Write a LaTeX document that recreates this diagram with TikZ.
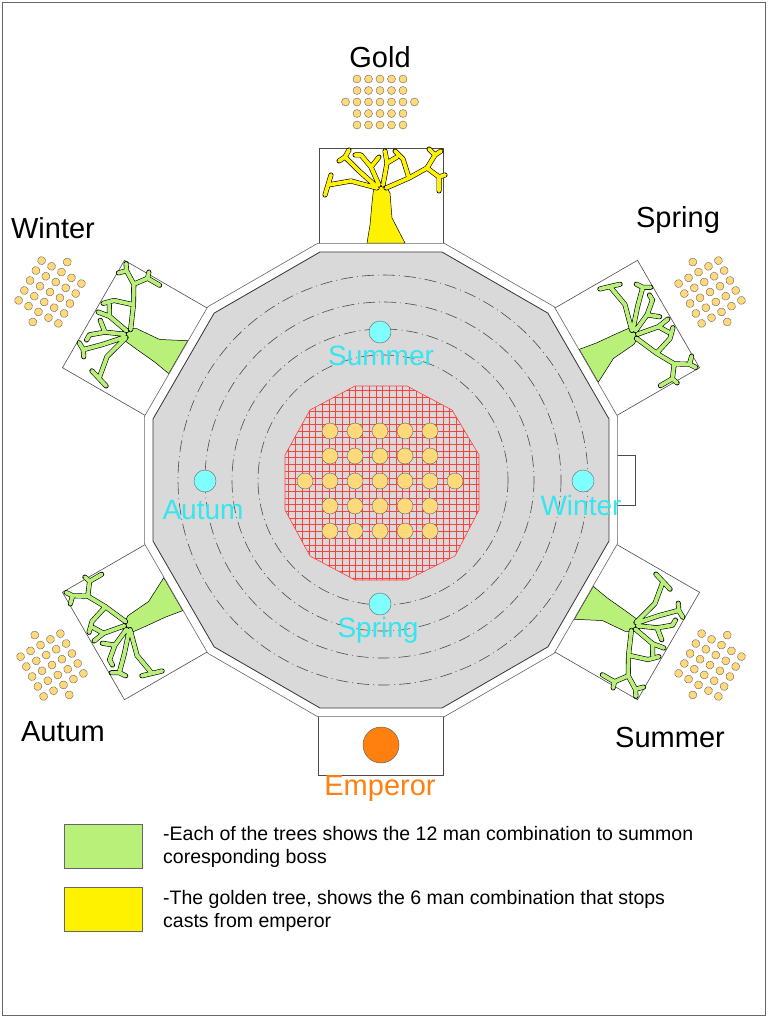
\documentclass[tikz,border=0pt]{standalone}
\usepackage{fontspec}
\setmainfont{Liberation Sans}
\usetikzlibrary{positioning,calc}
\definecolor{hallgray}{HTML}{D9D9D9}
\definecolor{manfill}{HTML}{FFD97A}
\definecolor{treegreen}{HTML}{B8F07A}
\definecolor{treegold}{HTML}{FFF200}
\definecolor{bossdot}{HTML}{80FFFF}
\definecolor{bosstext}{HTML}{33E6F0}
\definecolor{emporange}{HTML}{FF7F0F}
\tikzset{
    treebox/.style={draw=black!70, fill=white, line width=0.6pt},
    man/.style={draw=black!60, fill=manfill, line width=0.4pt},
    boss/.style={draw=black!60, fill=bossdot, line width=0.4pt},
    bosslabel/.style={text=bosstext, font=\fontsize{28}{28}\selectfont},
    sidelabel/.style={font=\fontsize{29}{29}\selectfont},
    ring/.style={draw=black!70, line width=0.6pt, dash pattern=on 12pt off 4pt on 1pt off 4pt},
    legendtext/.style={font=\fontsize{19.5}{23}\selectfont, align=left, anchor=north west, inner sep=0pt}
}
% one tree, base at origin, growing towards negative y
\newcommand{\drawtree}[1]{%
  \fill[#1, draw=black, line width=0.5pt] (-14,0) -- (24,0) -- (11,-25) -- (9,-50) -- (2,-62) -- (-7,-58) -- (-9,-40) -- (-11,-18) -- cycle;
  \foreach \w/\c in {5/black, 3.8/#1}{
    \draw[line width=\w pt, \c, line cap=round, line join=round]
      (-4,-55) -- (-30,-62) -- (-53,-58) (-53,-58) -- (-56,-48) (-53,-58) -- (-50,-68)
      (-4,-56) -- (-22,-72) -- (-36,-86) (-36,-86) -- (-42,-82) (-36,-86) -- (-32,-93)
      (-2,-58) -- (-10,-76) -- (-20,-88) (-20,-88) -- (-26,-88) (-10,-76) -- (-2,-86)
      (2,-58) -- (6,-80) -- (4,-92) (6,-80) -- (16,-86)
      (5,-55) -- (28,-65) -- (46,-75) -- (54,-88) (54,-88) -- (60,-92) (54,-88) -- (48,-94)
      (28,-65) -- (22,-84) -- (14,-92)
      (46,-75) -- (58,-66) -- (58,-52) (58,-66) -- (64,-68);
  }
}
% 5x5 men plus one at each end of the middle row
\newcommand{\mengroup}[2]{%
  \foreach \i in {-2,...,2}{
    \foreach \j in {-2,...,2}{
      \draw[man] (\i*#1,\j*#1) circle (#2);
    }
  }
  \draw[man] (-3*#1,0) circle (#2);
  \draw[man] (3*#1,0) circle (#2);
}
\begin{document}
\begin{tikzpicture}[x=1pt, y=-1pt]
\useasboundingbox (0,0) rectangle (768,1024);
\draw[black!60, line width=0.6pt] (2,2) rectangle (765,1015);

% tree boxes around the hall
\foreach \r/\col in {0/treegold, 60/treegreen, -60/treegreen, 120/treegreen, -120/treegreen}{
  \begin{scope}[shift={(381,480)}, rotate=\r]
    \draw[treebox] (-62,-232) rectangle (62,-332);
    \begin{scope}[shift={(0,-237)}]
      \drawtree{\col}
    \end{scope}
  \end{scope}
}
\draw[treebox] (318,700) rectangle (443,775);
\draw[treebox] (600,455) rectangle (635,505);

% hall
\draw[black!60, fill=white, line width=0.6pt] ($(381,480)+(15:245)$) \foreach \a in {45,75,...,345}{ -- ($(381,480)+(\a:245)$)} -- cycle;
\draw[black!80, fill=hallgray, line width=0.8pt] ($(381,480)+(15:236)$) \foreach \a in {45,75,...,345}{ -- ($(381,480)+(\a:236)$)} -- cycle;

% rings
\foreach \rad in {125,151,178,205}{
  \draw[ring] (383,480) circle (\rad);
}

% red floor
\begin{scope}
  \clip (355,386) -- (407,386) -- (452,410) -- (479,455) -- (479,510) -- (455,556) -- (407,580) -- (355,580) -- (310,556) -- (285,510) -- (285,455) -- (310,410) -- cycle;
  \foreach \k in {0,...,30}{
    \draw[red!75, line width=0.5pt] (282+\k*6.7,380) -- (282+\k*6.7,585);
    \draw[red!75, line width=0.5pt] (280,384+\k*6.7) -- (485,384+\k*6.7);
  }
\end{scope}
\draw[red!75, line width=0.6pt] (355,386) -- (407,386) -- (452,410) -- (479,455) -- (479,510) -- (455,556) -- (407,580) -- (355,580) -- (310,556) -- (285,510) -- (285,455) -- (310,410) -- cycle;

\begin{scope}[shift={(380,481)}]
  \mengroup{25}{8}
\end{scope}

% bosses
\draw[boss] (380,332) circle (11);
\draw[boss] (205,481) circle (11);
\draw[boss] (583,481) circle (11);
\draw[boss] (380,604) circle (11);
\node[bosslabel] (bsummer) at (381,356) {Summer};
\node[bosslabel] (bautum) at (203,510) {Autum};
\node[bosslabel] (bwinter) at (581,505) {Winter};
\node[bosslabel] (bspring) at (378,630) {Spring};

% emperor
\draw[black!60, fill=emporange, line width=0.5pt] (381,745) circle (18);
\node[text=emporange, font=\fontsize{29}{29}\selectfont] (emperor) at (380,789) {Emperor};

% outer groups
\begin{scope}[shift={(380,102)}] \mengroup{11.5}{4} \end{scope}
\begin{scope}[shift={(710,292)}, rotate=-60] \mengroup{11.5}{4} \end{scope}
\begin{scope}[shift={(50,292)}, rotate=60] \mengroup{11.5}{4} \end{scope}
\begin{scope}[shift={(52,665)}, rotate=120] \mengroup{11.5}{4} \end{scope}
\begin{scope}[shift={(710,665)}, rotate=-120] \mengroup{11.5}{4} \end{scope}

\node[sidelabel] (gold) at (380,57) {Gold};
\node[sidelabel] (winter) at (53,228) {Winter};
\node[sidelabel] (spring) at (678,220) {Spring};
\node[sidelabel] (autum) at (63,732) {Autum};
\node[sidelabel] (summer) at (670,738) {Summer};

% legend
\draw[black!60, fill=treegreen, line width=0.5pt] (64,824) rectangle (142,868);
\draw[black!60, fill=treegold, line width=0.5pt] (64,887) rectangle (142,931);
\node[legendtext] (legone) at (163,826) {-Each of the trees shows the 12 man combination to summon\\coresponding boss};
\node[legendtext] (legtwo) at (163,890) {-The golden tree, shows the 6 man combination that stops\\casts from emperor};
\end{tikzpicture}
\end{document}
